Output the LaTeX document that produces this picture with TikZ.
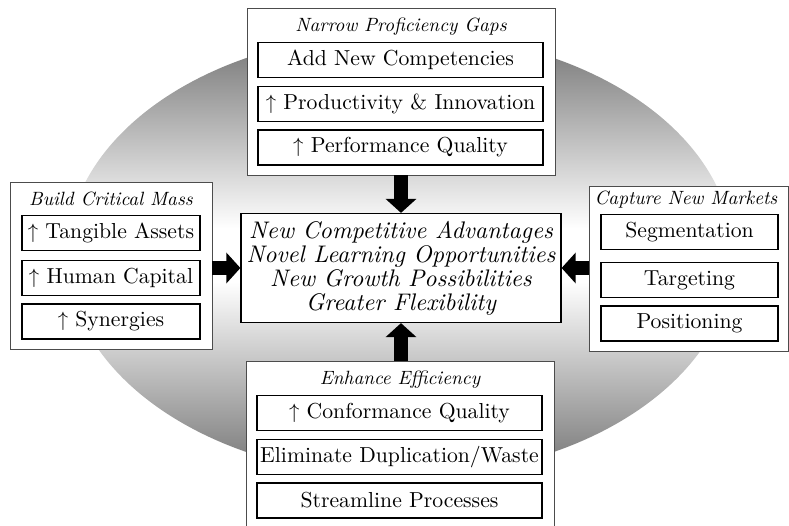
\documentclass[tikz,border=0pt]{standalone}
\usepackage{fontspec}
\setmainfont{lmroman10-regular}[Extension=.otf, ItalicFont=lmroman10-italic, BoldFont=lmroman10-bold]
\usetikzlibrary{arrows.meta}
% grey band shading: dark at top and bottom, white across the middle
\pgfdeclareverticalshading{band}{100bp}{color(0bp)=(black!55); color(25bp)=(black!55); color(47bp)=(white); color(53bp)=(white); color(75bp)=(black!55); color(100bp)=(black!55)}
\begin{document}
\begin{tikzpicture}[x=1pt,y=-1pt,
  group/.style={draw=black!70, line width=0.7pt, fill=white, inner sep=0pt},
  item/.style={draw=black, line width=1.3pt, fill=white, inner sep=0pt,
    minimum height=35pt, font=\fontsize{21.7}{24}\selectfont},
  head/.style={anchor=base, inner sep=0pt, font=\fontsize{19.2}{22}\selectfont\itshape},
  hub/.style={draw=black, line width=1.2pt, fill=white, align=center, inner sep=0pt,
    font=\fontsize{24}{24}\selectfont\itshape},
  push/.style={line width=14pt, -{Triangle[length=14pt,width=30pt]}},
]
\useasboundingbox (0,0) rectangle (789,525);
\clip (0,0) rectangle (789,525);

% background halo
\shade[shading=band] (400,255) ellipse [x radius=333pt, y radius=222pt];

% top group
\node[group, minimum width=308pt, minimum height=167pt] (gaps) at (401,91.5) {};
\node[head] (gapsT) at (401,31) {Narrow Proficiency Gaps};
\node[item, minimum width=285pt] (gaps1) at (400.5,60) {Add New Competencies};
\node[item, minimum width=285pt] (gaps2) at (400.5,104) {$\uparrow$ Productivity \& Innovation};
\node[item, minimum width=285pt] (gaps3) at (400.5,147.5) {$\uparrow$ Performance Quality};

% left group
\node[group, minimum width=202pt, minimum height=167pt] (mass) at (111,265.5) {};
\node[head] (massT) at (111,205) {Build Critical Mass};
\node[item, minimum width=178pt] (mass1) at (111,233) {$\uparrow$ Tangible Assets};
\node[item, minimum width=178pt] (mass2) at (111,278) {$\uparrow$ Human Capital};
\node[item, minimum width=178pt] (mass3) at (111,321.5) {$\uparrow$ Synergies};

% right group
\node[group, minimum width=199pt, minimum height=165pt] (markets) at (688.5,268.5) {};
\node[head] (marketsT) at (686,204) {Capture New Markets};
\node[item, minimum width=177pt] (markets1) at (689.5,232) {Segmentation};
\node[item, minimum width=177pt] (markets2) at (689.5,280) {Targeting};
\node[item, minimum width=177pt] (markets3) at (689.5,323.5) {Positioning};

% bottom group
\node[group, minimum width=308pt, minimum height=179pt] (eff) at (400,450.5) {};
\node[head] (effT) at (400,384) {Enhance Efficiency};
\node[item, minimum width=285pt] (eff1) at (399.5,413) {$\uparrow$ Conformance Quality};
\node[item, minimum width=285pt] (eff2) at (399.5,457) {Eliminate Duplication/Waste};
\node[item, minimum width=285pt] (eff3) at (399.5,500.5) {Streamline Processes};

% centre
\node[hub, minimum width=320pt, minimum height=109pt] (hub) at (401,268)
  {New Competitive Advantages\\Novel Learning Opportunities\\New Growth Possibilities\\Greater Flexibility};

% block arrows into the centre
\draw[push] (gaps.south -| hub.north) -- (hub.north);
\draw[push] (mass.east |- hub.west) -- (hub.west);
\draw[push] (markets.west |- hub.east) -- (hub.east);
\draw[push] (eff.north -| hub.south) -- (hub.south);
\end{tikzpicture}
\end{document}
